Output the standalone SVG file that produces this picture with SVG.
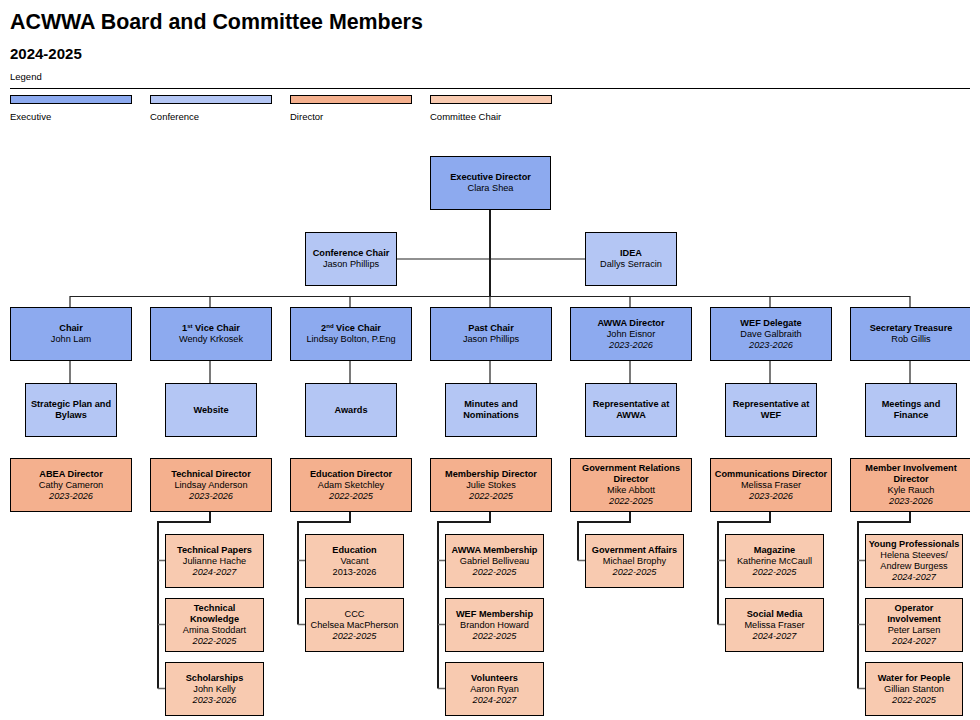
<svg xmlns="http://www.w3.org/2000/svg" width="980" height="720" viewBox="0 0 980 720">
<style>
text{font-family:"Liberation Sans",Arial,sans-serif;fill:#000;text-anchor:middle;font-size:9.2px}
.b{font-weight:bold}
.i{font-style:italic}
.ex{fill:#8DAAEF;stroke:#000;stroke-width:1}
.co{fill:#B4C6F4;stroke:#000;stroke-width:1}
.di{fill:#F4B08E;stroke:#000;stroke-width:1}
.cc{fill:#F8CAB0;stroke:#000;stroke-width:1}
.k{stroke:#1a1a1a;stroke-width:2;fill:none}
.l{stroke:#222;stroke-width:1.2;fill:none}
.g{stroke:#666;stroke-width:1.5;fill:none}
.hdr{text-anchor:start}
</style>
<defs>
<clipPath id="page"><rect x="0" y="0" width="970" height="720"/></clipPath>
</defs>
<rect width="980" height="720" fill="#fff"/>
<g clip-path="url(#page)">
<g id="header">
<text class="hdr b" x="10" y="29" style="font-size:21.4px">ACWWA Board and Committee Members</text>
<text class="hdr b" x="10" y="59" style="font-size:15px">2024-2025</text>
<text class="hdr" x="10" y="79.5" style="font-size:9.5px">Legend</text>
<line x1="10" y1="88.5" x2="975" y2="88.5" stroke="#000" stroke-width="1"/>
</g>
<g id="legend">
<rect class="ex" x="10.5" y="95.5" width="121" height="8"/>
<rect class="co" x="150.5" y="95.5" width="121" height="8"/>
<rect class="di" x="290.5" y="95.5" width="121" height="8"/>
<rect class="cc" x="430.5" y="95.5" width="121" height="8"/>
<text class="hdr" x="10" y="120" style="font-size:9.5px">Executive</text>
<text class="hdr" x="150" y="120" style="font-size:9.5px">Conference</text>
<text class="hdr" x="290" y="120" style="font-size:9.5px">Director</text>
<text class="hdr" x="430" y="120" style="font-size:9.5px">Committee Chair</text>
</g>

<g id="connectors">
<path class="k" d="M490 209V296"/>
<path class="l" d="M396 259H585"/>
<path class="l" d="M70 296.5H910M70 296V307M210 296V307M350 296V307M490 296V307M630 296V307M770 296V307M910 296V307"/>
<path class="l" d="M70 360V383M210 360V383M350 360V383M490 360V383M630 360V383M770 360V383M910 360V383"/>
<path class="k" d="M210 511V522H158V688.5"/>
<path class="g" d="M158 560.5H165M158 624.5H165M158 688.5H165"/>
<path class="k" d="M350 511V522H298V624.5"/>
<path class="g" d="M298 560.5H305M298 624.5H305"/>
<path class="k" d="M490 511V522H438V688.5"/>
<path class="g" d="M438 560.5H445M438 624.5H445M438 688.5H445"/>
<path class="k" d="M630 511V522H578V560.5"/>
<path class="g" d="M578 560.5H585"/>
<path class="k" d="M770 511V522H718V624.5"/>
<path class="g" d="M718 560.5H725M718 624.5H725"/>
<path class="k" d="M910 511V522H858V688.5"/>
<path class="g" d="M858 560.5H865M858 624.5H865M858 688.5H865"/>
</g>

<g id="exec-director"><rect class="ex" x="430.5" y="156.5" width="120" height="53"/>
<text class="b" x="490.5" y="180.3">Executive Director</text><text x="490.5" y="191.3">Clara Shea</text></g>
<g id="conference-chair-top"><rect class="co" x="305.5" y="232.5" width="91" height="53"/>
<text class="b" x="351" y="256.3">Conference Chair</text><text x="351" y="267.3">Jason Phillips</text></g>
<g id="idea"><rect class="co" x="585.5" y="232.5" width="91" height="53"/>
<text class="b" x="631" y="256.3">IDEA</text><text x="631" y="267.3">Dallys Serracin</text></g>

<g id="chair"><rect class="ex" x="10.5" y="307.5" width="121" height="53"/>
<text class="b" x="71" y="331.3">Chair</text><text x="71" y="342.3">John Lam</text></g>
<g id="vice-chair-1"><rect class="ex" x="150.5" y="307.5" width="121" height="53"/>
<text class="b" x="211" y="331.3">1<tspan style="font-size:6px" dy="-3">st</tspan><tspan dy="3"> Vice Chair</tspan></text><text x="211" y="342.3">Wendy Krkosek</text></g>
<g id="vice-chair-2"><rect class="ex" x="290.5" y="307.5" width="121" height="53"/>
<text class="b" x="351" y="331.3">2<tspan style="font-size:6px" dy="-3">nd</tspan><tspan dy="3"> Vice Chair</tspan></text><text x="351" y="342.3">Lindsay Bolton, P.Eng</text></g>
<g id="past-chair"><rect class="ex" x="430.5" y="307.5" width="121" height="53"/>
<text class="b" x="491" y="331.3">Past Chair</text><text x="491" y="342.3">Jason Phillips</text></g>
<g id="awwa-director"><rect class="ex" x="570.5" y="307.5" width="121" height="53"/>
<text class="b" x="631" y="325.8">AWWA Director</text><text x="631" y="336.8">John Eisnor</text><text class="i" x="631" y="347.8">2023-2026</text></g>
<g id="wef-delegate"><rect class="ex" x="710.5" y="307.5" width="121" height="53"/>
<text class="b" x="771" y="325.8">WEF Delegate</text><text x="771" y="336.8">Dave Galbraith</text><text class="i" x="771" y="347.8">2023-2026</text></g>
<g id="secretary-treasure"><rect class="ex" x="850.5" y="307.5" width="121" height="53"/>
<text class="b" x="911" y="331.3">Secretary Treasure</text><text x="911" y="342.3">Rob Gillis</text></g>

<g id="strategic-plan"><rect class="co" x="25.5" y="383.5" width="91" height="53"/>
<text class="b" x="71" y="407.3">Strategic Plan and</text><text class="b" x="71" y="418.3">Bylaws</text></g>
<g id="website"><rect class="co" x="165.5" y="383.5" width="91" height="53"/>
<text class="b" x="211" y="412.8">Website</text></g>
<g id="awards"><rect class="co" x="305.5" y="383.5" width="91" height="53"/>
<text class="b" x="351" y="412.8">Awards</text></g>
<g id="minutes"><rect class="co" x="445.5" y="383.5" width="91" height="53"/>
<text class="b" x="491" y="407.3">Minutes and</text><text class="b" x="491" y="418.3">Nominations</text></g>
<g id="rep-awwa"><rect class="co" x="585.5" y="383.5" width="91" height="53"/>
<text class="b" x="631" y="407.3">Representative at</text><text class="b" x="631" y="418.3">AWWA</text></g>
<g id="rep-wef"><rect class="co" x="725.5" y="383.5" width="91" height="53"/>
<text class="b" x="771" y="407.3">Representative at</text><text class="b" x="771" y="418.3">WEF</text></g>
<g id="meetings"><rect class="co" x="865.5" y="383.5" width="91" height="53"/>
<text class="b" x="911" y="407.3">Meetings and</text><text class="b" x="911" y="418.3">Finance</text></g>

<g id="abea-director"><rect class="di" x="10.5" y="458.5" width="121" height="53"/>
<text class="b" x="71" y="476.8">ABEA Director</text><text x="71" y="487.8">Cathy Cameron</text><text class="i" x="71" y="498.8">2023-2026</text></g>
<g id="technical-director"><rect class="di" x="150.5" y="458.5" width="121" height="53"/>
<text class="b" x="211" y="476.8">Technical Director</text><text x="211" y="487.8">Lindsay Anderson</text><text class="i" x="211" y="498.8">2023-2026</text></g>
<g id="education-director"><rect class="di" x="290.5" y="458.5" width="121" height="53"/>
<text class="b" x="351" y="476.8">Education Director</text><text x="351" y="487.8">Adam Sketchley</text><text class="i" x="351" y="498.8">2022-2025</text></g>
<g id="membership-director"><rect class="di" x="430.5" y="458.5" width="121" height="53"/>
<text class="b" x="491" y="476.8">Membership Director</text><text x="491" y="487.8">Julie Stokes</text><text class="i" x="491" y="498.8">2022-2025</text></g>
<g id="gov-relations-director"><rect class="di" x="570.5" y="458.5" width="121" height="53"/>
<text class="b" x="631" y="471.3">Government Relations</text><text class="b" x="631" y="482.3">Director</text><text x="631" y="493.3">Mike Abbott</text><text class="i" x="631" y="504.3">2022-2025</text></g>
<g id="communications-director"><rect class="di" x="710.5" y="458.5" width="121" height="53"/>
<text class="b" x="771" y="476.8">Communications Director</text><text x="771" y="487.8">Melissa Fraser</text><text class="i" x="771" y="498.8">2023-2026</text></g>
<g id="member-involvement-director"><rect class="di" x="850.5" y="458.5" width="121" height="53"/>
<text class="b" x="911" y="471.3">Member Involvement</text><text class="b" x="911" y="482.3">Director</text><text x="911" y="493.3">Kyle Rauch</text><text class="i" x="911" y="504.3">2023-2026</text></g>

<g id="technical-papers"><rect class="cc" x="165.5" y="534.5" width="98" height="53"/>
<text class="b" x="214.5" y="552.8">Technical Papers</text><text x="214.5" y="563.8">Julianne Hache</text><text class="i" x="214.5" y="574.8">2024-2027</text></g>
<g id="technical-knowledge"><rect class="cc" x="165.5" y="598.5" width="98" height="53"/>
<text class="b" x="214.5" y="611.3">Technical</text><text class="b" x="214.5" y="622.3">Knowledge</text><text x="214.5" y="633.3">Amina Stoddart</text><text class="i" x="214.5" y="644.3">2022-2025</text></g>
<g id="scholarships"><rect class="cc" x="165.5" y="662.5" width="98" height="53"/>
<text class="b" x="214.5" y="680.8">Scholarships</text><text x="214.5" y="691.8">John Kelly</text><text class="i" x="214.5" y="702.8">2023-2026</text></g>

<g id="education"><rect class="cc" x="305.5" y="534.5" width="98" height="53"/>
<text class="b" x="354.5" y="552.8">Education</text><text x="354.5" y="563.8">Vacant</text><text x="354.5" y="574.8">2013-2026</text></g>
<g id="ccc"><rect class="cc" x="305.5" y="598.5" width="98" height="53"/>
<text x="354.5" y="616.8">CCC</text><text x="354.5" y="627.8">Chelsea MacPherson</text><text class="i" x="354.5" y="638.8">2022-2025</text></g>

<g id="awwa-membership"><rect class="cc" x="445.5" y="534.5" width="98" height="53"/>
<text class="b" x="494.5" y="552.8">AWWA Membership</text><text x="494.5" y="563.8">Gabriel Belliveau</text><text class="i" x="494.5" y="574.8">2022-2025</text></g>
<g id="wef-membership"><rect class="cc" x="445.5" y="598.5" width="98" height="53"/>
<text class="b" x="494.5" y="616.8">WEF Membership</text><text x="494.5" y="627.8">Brandon Howard</text><text class="i" x="494.5" y="638.8">2022-2025</text></g>
<g id="volunteers"><rect class="cc" x="445.5" y="662.5" width="98" height="53"/>
<text class="b" x="494.5" y="680.8">Volunteers</text><text x="494.5" y="691.8">Aaron Ryan</text><text class="i" x="494.5" y="702.8">2024-2027</text></g>

<g id="government-affairs"><rect class="cc" x="585.5" y="534.5" width="98" height="53"/>
<text class="b" x="634.5" y="552.8">Government Affairs</text><text x="634.5" y="563.8">Michael Brophy</text><text class="i" x="634.5" y="574.8">2022-2025</text></g>

<g id="magazine"><rect class="cc" x="725.5" y="534.5" width="98" height="53"/>
<text class="b" x="774.5" y="552.8">Magazine</text><text x="774.5" y="563.8">Katherine McCaull</text><text class="i" x="774.5" y="574.8">2022-2025</text></g>
<g id="social-media"><rect class="cc" x="725.5" y="598.5" width="98" height="53"/>
<text class="b" x="774.5" y="616.8">Social Media</text><text x="774.5" y="627.8">Melissa Fraser</text><text class="i" x="774.5" y="638.8">2024-2027</text></g>

<g id="young-professionals"><rect class="cc" x="865.5" y="534.5" width="97" height="53"/>
<text class="b" x="914" y="547.3">Young Professionals</text><text x="914" y="558.3">Helena Steeves/</text><text x="914" y="569.3">Andrew Burgess</text><text class="i" x="914" y="580.3">2024-2027</text></g>
<g id="operator-involvement"><rect class="cc" x="865.5" y="598.5" width="97" height="53"/>
<text class="b" x="914" y="611.3">Operator</text><text class="b" x="914" y="622.3">Involvement</text><text x="914" y="633.3">Peter Larsen</text><text class="i" x="914" y="644.3">2024-2027</text></g>
<g id="water-for-people"><rect class="cc" x="865.5" y="662.5" width="97" height="53"/>
<text class="b" x="914" y="680.8">Water for People</text><text x="914" y="691.8">Gillian Stanton</text><text class="i" x="914" y="702.8">2022-2025</text></g>
</g>
</svg>
